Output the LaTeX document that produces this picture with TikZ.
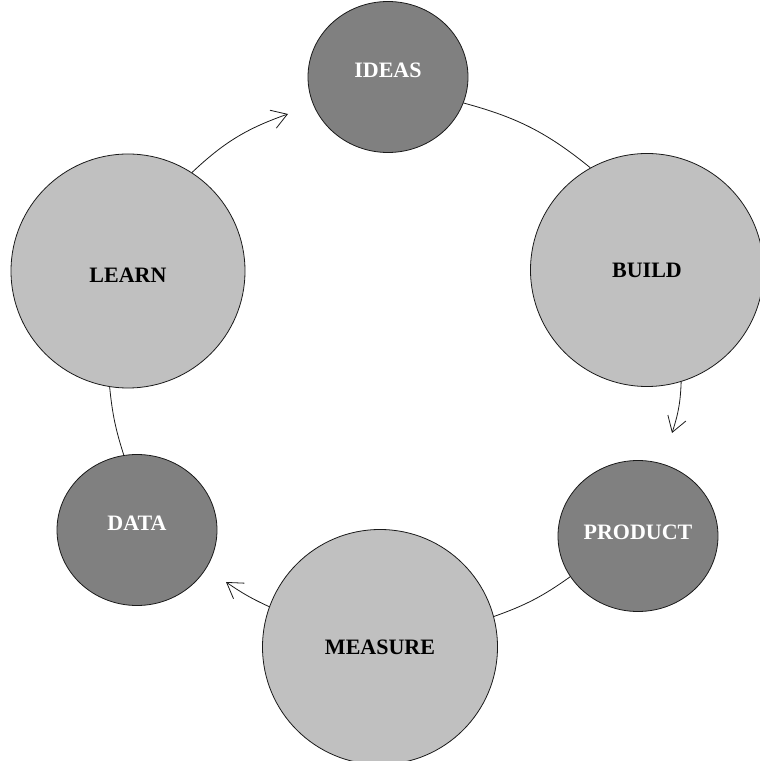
\documentclass[tikz,border=0pt]{standalone}
\usepackage{fontspec}
\setmainfont{Liberation Serif}
\usetikzlibrary{arrows.meta,shapes.geometric}
\definecolor{stagedark}{HTML}{808080}
\definecolor{stagelight}{HTML}{C0C0C0}
\definecolor{inkline}{HTML}{1A1A1A}

\begin{document}
\begin{tikzpicture}[
  x=1pt, y=1pt,
  font=\bfseries\fontsize{22}{26}\selectfont,
  big/.style   = {circle, draw=inkline, line width=0.8pt, fill=stagelight, text=black, inner sep=0pt},
  small/.style = {ellipse, draw=inkline, line width=0.8pt, fill=stagedark, text=white, inner sep=0pt,
                  minimum width=160pt, minimum height=151pt},
  ln/.style    = {draw=inkline, line width=0.8pt},
  go/.style    = {ln, -{Straight Barb[length=15pt, width=19pt]}},
]
\useasboundingbox (0,0) rectangle (760,761);

% --- the six stages, clockwise from the top -------------------------------------------------------
\node[small, text depth=14pt]            (ideas)   at (388,684) {IDEAS};
\node[big, minimum size=233pt]           (build)   at (647,491) {BUILD};
\node[small, text depth=8pt]             (product) at (638,225) {PRODUCT};
\node[big, minimum size=235pt]           (measure) at (380,114) {MEASURE};
\node[small, text depth=14pt]            (data)    at (137,231) {DATA};
\node[big, minimum size=234pt, text height=23pt] (learn) at (128,490) {LEARN};

% --- free ends of the three arrows ----------------------------------------------------------------
\coordinate (buildtip)   at (672,328);
\coordinate (measuretip) at (226,179);
\coordinate (learntip)   at (288,647);

% --- the loop: plain arcs alternate with arrows, all bowed outward --------------------------------
\draw[ln] (ideas.-19)   to[bend left=12] (build.119);
\draw[go] (build.-73)   to[bend left=8]  (buildtip);
\draw[ln] (product.211) to[bend left=8]  (measure.15);
\draw[go] (measure.160) to[bend left=5]  (measuretip);
\draw[ln] (data.100)    to[bend left=6]  (learn.261);
\draw[go] (learn.57)    to[bend left=12] (learntip);

\end{tikzpicture}
\end{document}
